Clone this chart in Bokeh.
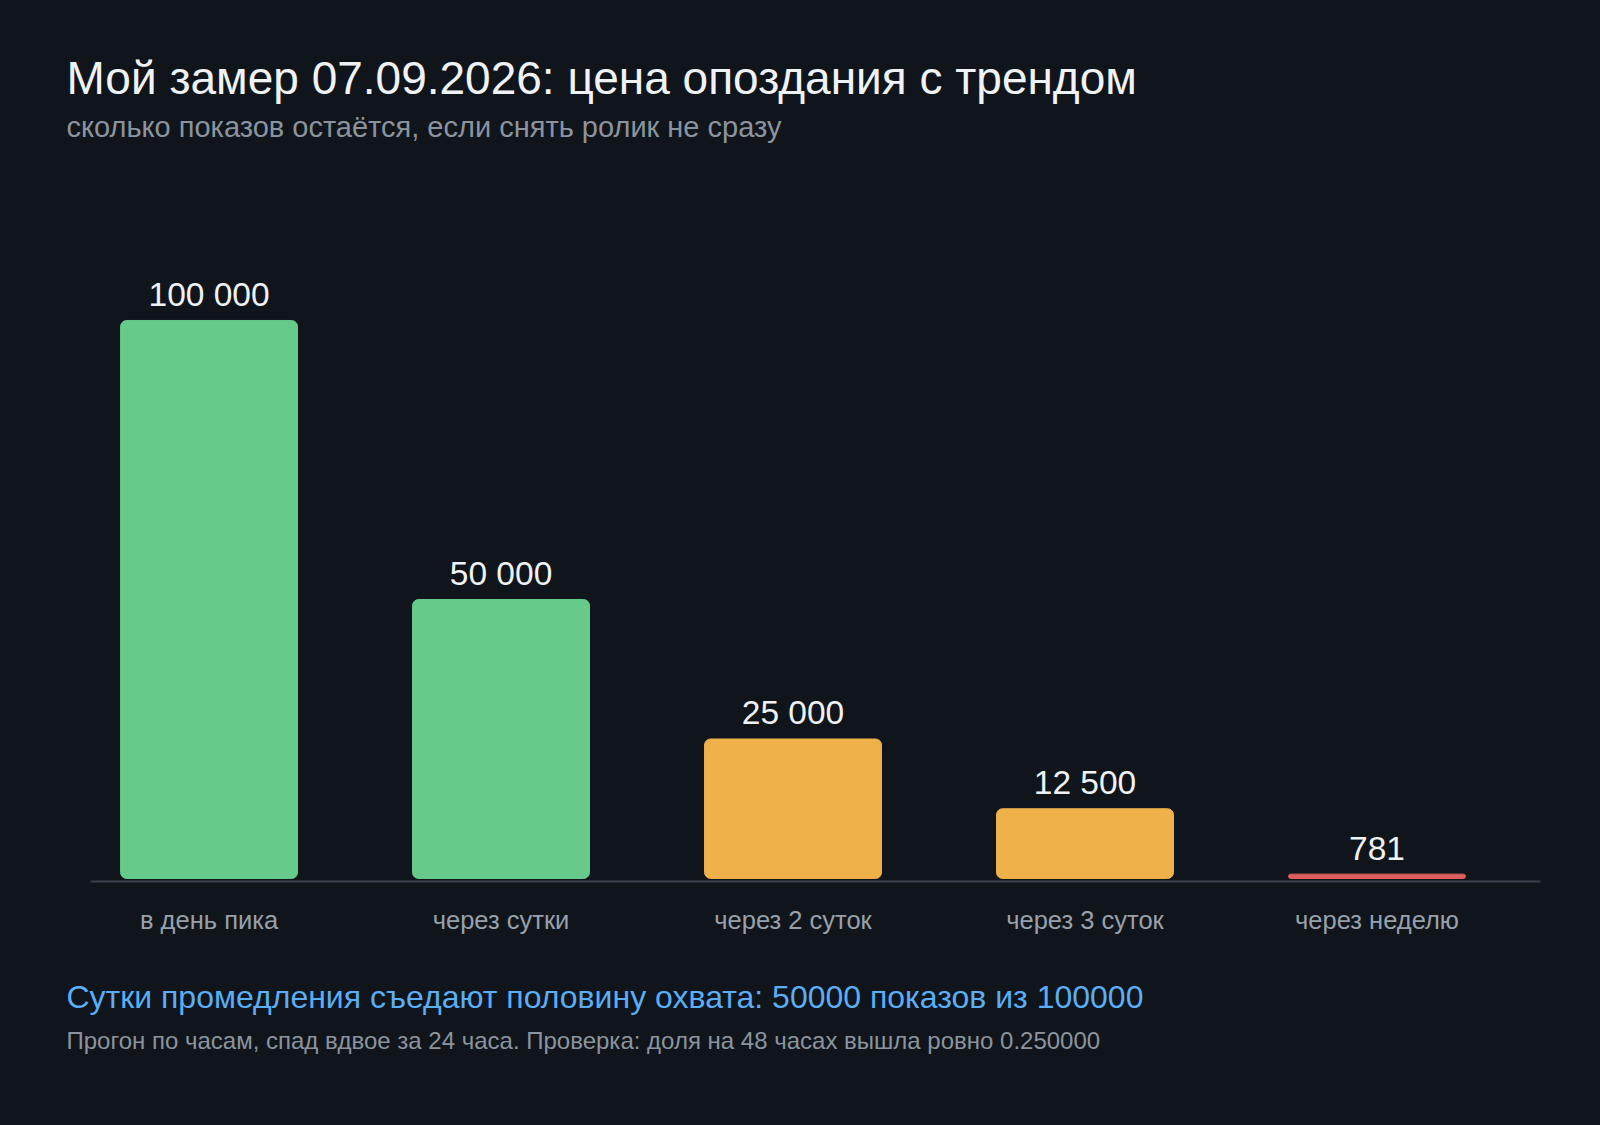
from bokeh.core.properties import value
from bokeh.embed import file_html
from bokeh.models import ColumnDataSource, FixedTicker, Range1d, Title
from bokeh.plotting import figure
from bokeh.resources import INLINE

# data
categories = ['в день пика', 'через сутки', 'через 2 суток', 'через 3 суток', 'через неделю']
views = [100000, 50000, 25000, 12500, 781]
bar_colors = ['#66ca8a', '#66ca8a', '#efb14a', '#efb14a', '#df5f5f']

title_text = 'Мой замер 07.09.2026: цена опоздания с трендом'
subtitle_text = 'сколько показов остаётся, если снять ролик не сразу'
note_text = 'Сутки промедления съедают половину охвата: 50000 показов из 100000'
check_text = 'Прогон по часам, спад вдвое за 24 часа. Проверка: доля на 48 часах вышла ровно 0.250000'

BG = '#10151c'
FONT = 'Liberation Sans'

positions = list(range(len(categories)))
labels = ['{:,}'.format(v).replace(',', ' ') for v in views]
source = ColumnDataSource(data=dict(x=positions, views=views, color=bar_colors, label=labels))

p = figure(width=1600, height=1125, output_backend="svg", toolbar_location=None,
           tools='', y_axis_location=None,
           x_range=Range1d(-0.406, 4.56), y_range=Range1d(-538, 131000),
           min_border_left=90, min_border_right=60, min_border_top=147, min_border_bottom=244,
           background_fill_color=BG, border_fill_color=None)
p.styles = {'background-color': BG}
p.outline_line_color = None

p.vbar(x='x', top='views', bottom=0, width=0.606, color='color', source=source,
       border_radius=6)
p.text(x='x', y='views', text='label', source=source, text_align='center',
       text_baseline='alphabetic', y_offset=-26, text_color='#f0f3f6',
       text_font_size='33.5px', text_font=value(FONT))

p.grid.visible = False
p.xaxis.ticker = FixedTicker(ticks=positions)
p.xaxis.major_label_overrides = {i: c for i, c in zip(positions, categories)}
p.xaxis.axis_line_color = '#3a414b'
p.xaxis.axis_line_width = 2
p.xaxis.major_tick_line_color = None
p.xaxis.minor_tick_line_color = None
p.xaxis.major_tick_out = 0
p.xaxis.major_label_standoff = 24
p.xaxis.major_label_text_font = FONT
p.xaxis.major_label_text_font_size = '25.5px'
p.xaxis.major_label_text_color = '#98a1ab'

# headline: the first title added sits nearest the frame
p.add_layout(Title(text=subtitle_text, align='left', offset=-24, standoff=10,
                   text_font=FONT, text_font_size='29px', text_font_style='normal',
                   text_color='#8b949e'), 'above')
p.add_layout(Title(text=title_text, align='left', offset=-24, standoff=0,
                   text_font=FONT, text_font_size='46px', text_font_style='normal',
                   text_color='#f0f3f6'), 'above')

# notes under the axis, with an empty line as spacer
p.add_layout(Title(text=' ', standoff=0, text_font_size='34.5px'), 'below')
p.add_layout(Title(text=note_text, align='left', offset=-24, standoff=0,
                   text_font=FONT, text_font_size='32px', text_font_style='normal',
                   text_color='#5aaef5'), 'below')
p.add_layout(Title(text=check_text, align='left', offset=-24, standoff=21,
                   text_font=FONT, text_font_size='24px', text_font_style='normal',
                   text_color='#8b949e'), 'below')

open("out.html", "w").write(file_html(p, INLINE))
